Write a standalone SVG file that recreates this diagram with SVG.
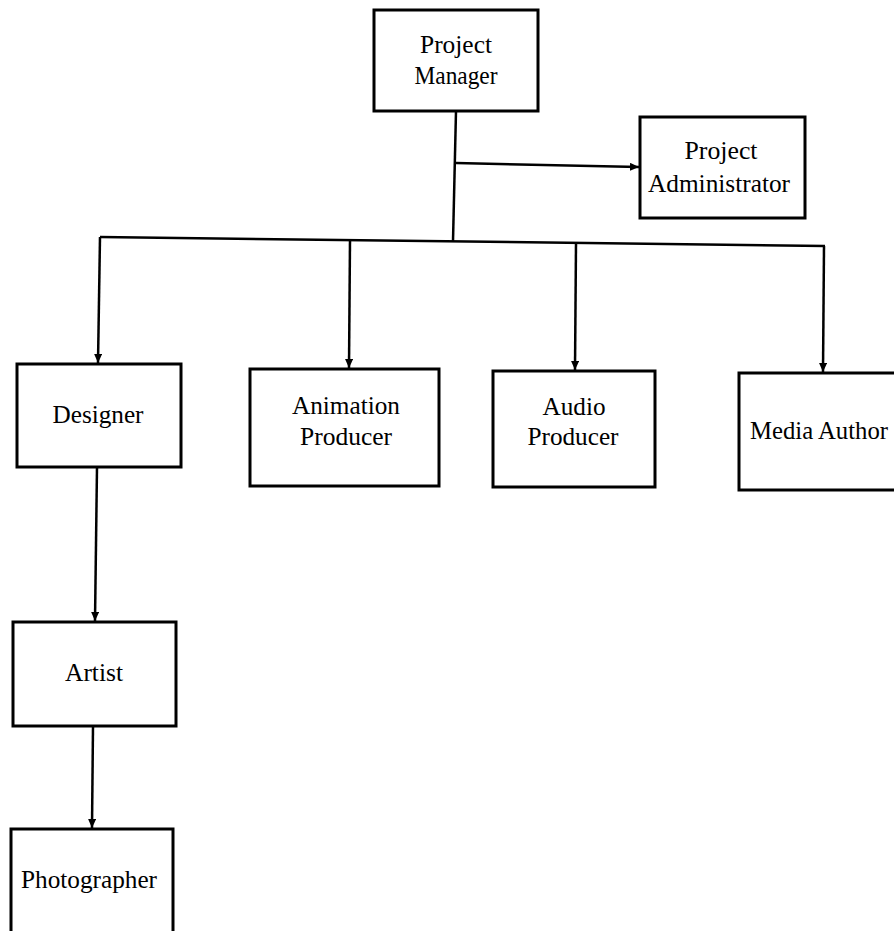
<svg xmlns="http://www.w3.org/2000/svg" width="894" height="931" viewBox="0 0 894 931">
<style>
.box{fill:#fff;stroke:#000;stroke-width:3}
.lbl{font-family:"Liberation Serif","Times New Roman",serif;font-size:25px;fill:#000;text-anchor:middle}
.ln{fill:none;stroke:#000;stroke-width:2.5}
</style>
<defs>
<marker id="ah" markerUnits="userSpaceOnUse" markerWidth="10" markerHeight="8" refX="9" refY="4" orient="auto">
<path d="M0,0 L9,4 L0,8 z" fill="#000"/>
</marker>
</defs>
<rect width="894" height="931" fill="#fff"/>
<g id="connectors">
<path class="ln" d="M456,111 L453,241"/>
<path class="ln" d="M456,163 L639,167" marker-end="url(#ah)"/>
<path class="ln" d="M100,237 L825,246"/>
<path class="ln" d="M100,237 L98,363" marker-end="url(#ah)"/>
<path class="ln" d="M350,240 L349,368" marker-end="url(#ah)"/>
<path class="ln" d="M576,243 L575,370" marker-end="url(#ah)"/>
<path class="ln" d="M824,246 L823,372" marker-end="url(#ah)"/>
<path class="ln" d="M97,467 L95,621" marker-end="url(#ah)"/>
<path class="ln" d="M93,726 L92,828" marker-end="url(#ah)"/>
</g>
<g id="project-manager">
<rect class="box" x="374" y="10" width="164" height="101"/>
<text class="lbl" x="456" y="53" textLength="72" lengthAdjust="spacingAndGlyphs">Project</text>
<text class="lbl" x="456" y="84" textLength="83" lengthAdjust="spacingAndGlyphs">Manager</text>
</g>
<g id="project-administrator">
<rect class="box" x="640" y="117" width="165" height="101"/>
<text class="lbl" x="721" y="159" textLength="73" lengthAdjust="spacingAndGlyphs">Project</text>
<text class="lbl" x="719" y="192" textLength="142" lengthAdjust="spacingAndGlyphs">Administrator</text>
</g>
<g id="designer">
<rect class="box" x="17" y="364" width="164" height="103"/>
<text class="lbl" x="98" y="423" textLength="91" lengthAdjust="spacingAndGlyphs">Designer</text>
</g>
<g id="animation-producer">
<rect class="box" x="250" y="369" width="189" height="117"/>
<text class="lbl" x="346" y="414" textLength="108" lengthAdjust="spacingAndGlyphs">Animation</text>
<text class="lbl" x="346" y="445" textLength="92" lengthAdjust="spacingAndGlyphs">Producer</text>
</g>
<g id="audio-producer">
<rect class="box" x="493" y="371" width="162" height="116"/>
<text class="lbl" x="574" y="415" textLength="63" lengthAdjust="spacingAndGlyphs">Audio</text>
<text class="lbl" x="573" y="445" textLength="91" lengthAdjust="spacingAndGlyphs">Producer</text>
</g>
<g id="media-author">
<rect class="box" x="739" y="373" width="170" height="117"/>
<text class="lbl" x="819" y="439" textLength="138" lengthAdjust="spacingAndGlyphs">Media Author</text>
</g>
<g id="artist">
<rect class="box" x="13" y="622" width="163" height="104"/>
<text class="lbl" x="94" y="681" textLength="58" lengthAdjust="spacingAndGlyphs">Artist</text>
</g>
<g id="photographer">
<rect class="box" x="11" y="829" width="162" height="116"/>
<text class="lbl" x="89" y="888" textLength="136" lengthAdjust="spacingAndGlyphs">Photographer</text>
</g>
</svg>
